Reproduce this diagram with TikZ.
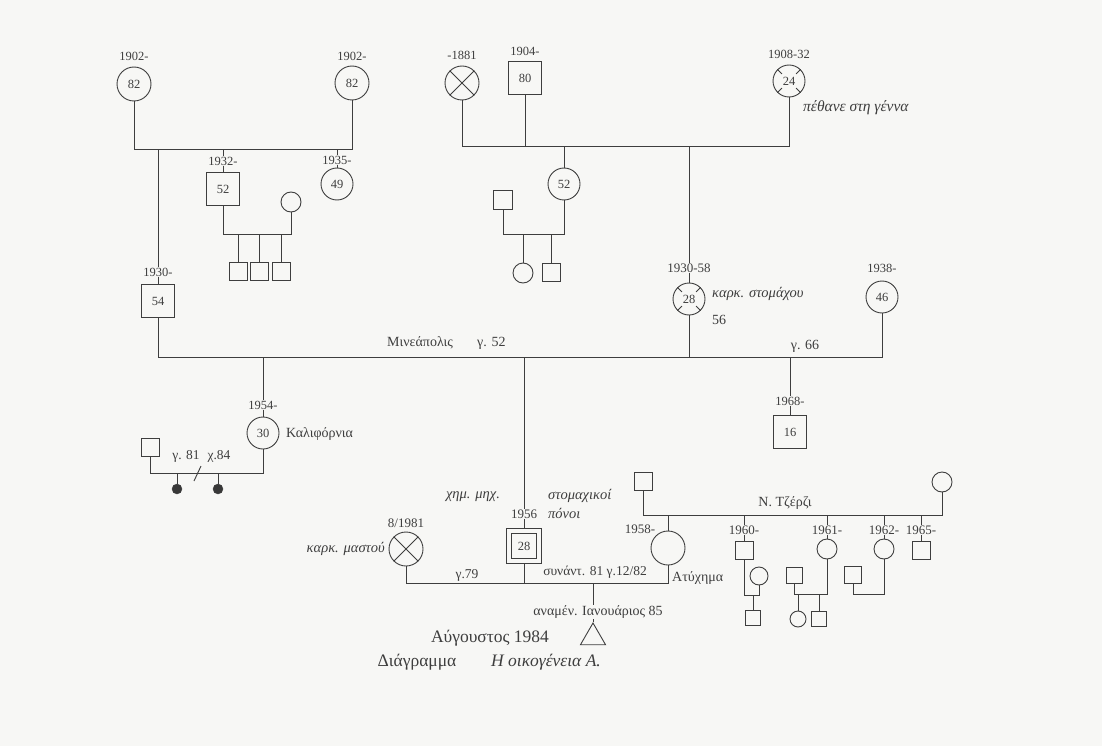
\documentclass[tikz,border=0pt]{standalone}
\usepackage{fontspec}
\setmainfont{Liberation Serif}
\usetikzlibrary{shapes.geometric}
\definecolor{bg}{RGB}{247,247,245}
\definecolor{ink}{RGB}{62,62,62}
\tikzset{
  sq/.style={draw=ink, rectangle, minimum size=#1, inner sep=0pt, line width=0.9pt, text=ink, font=\fontsize{12.5}{14}\selectfont},
  ci/.style={draw=ink, circle, minimum size=#1, inner sep=0pt, line width=0.9pt, text=ink, font=\fontsize{12.5}{14}\selectfont},
  dot/.style={circle, fill=ink!90!black, draw=ink, minimum size=#1, inner sep=0pt},
  tri/.style={draw=ink, regular polygon, regular polygon sides=3, minimum size=#1, inner sep=0pt, line width=0.9pt},
  ln/.style={draw=ink, line width=0.9pt},
  yr/.style={font=\fontsize{12.5}{14}\selectfont, text=ink, inner sep=1pt, fill=bg},
  note/.style={font=\fontsize{14.5}{16}\selectfont\itshape, text=ink, inner sep=1pt},
  txt/.style={font=\fontsize{14}{16}\selectfont, text=ink, inner sep=1pt},
  mid/.style={font=\fontsize{13.5}{16}\selectfont, text=ink, inner sep=1pt},
  big/.style={font=\fontsize{17.5}{20}\selectfont, text=ink, inner sep=1pt},
  bigit/.style={font=\fontsize{17.5}{20}\selectfont\itshape, text=ink, inner sep=1pt},
}
\begin{document}
\begin{tikzpicture}[x=1pt,y=-1pt]
\fill[bg] (0,0) rectangle (1102,746);
\useasboundingbox (0,0) rectangle (1102,746);
% ---- levels
\coordinate (m1) at (0,149);
\coordinate (m2) at (0,234);
\coordinate (m3) at (0,146);
\coordinate (m4) at (0,234);
\coordinate (m5) at (0,357);
\coordinate (m7) at (0,473);
\coordinate (m8) at (0,583);
\coordinate (m9) at (0,515);
\coordinate (m10) at (0,595);
\coordinate (m11) at (0,594);
% ---- top left
\node[ci=34] (A1) at (134,84) {82};
\node[ci=34] (A2) at (352,83) {82};
\node[sq=33] (B1) at (158,301) {54};
\node[sq=33] (B2) at (223,189) {52};
\node[ci=32] (B3) at (337,184) {49};
\node[ci=20] (B2w) at (291,202) {};
\node[sq=18] (K1) at (238,271) {};
\node[sq=18] (K2) at (259,271) {};
\node[sq=18] (K3) at (281,271) {};
% ---- top middle
\node[ci=34] (C1) at (462,83) {};
\draw[ln] (C1.45) -- (C1.225) (C1.135) -- (C1.315);
\node[sq=33] (C2) at (525,78) {80};
\node[ci=32] (C3) at (789,81) {24};
\foreach \a in {45,135,225,315} \draw[ln] ([shift={(\a:10pt)}]C3.center) -- (C3.\a);
\node[ci=32] (D1) at (564,184) {52};
\node[sq=19] (D1h) at (503,200) {};
\node[ci=20] (D1a) at (523,273) {};
\node[sq=18] (D1b) at (551,272) {};
\node[ci=32] (D2) at (689,299) {28};
\foreach \a in {45,135,225,315} \draw[ln] ([shift={(\a:10pt)}]D2.center) -- (D2.\a);
\node[ci=32] (E1) at (882,297) {46};
\node[sq=33] (F1) at (790,432) {16};
% ---- middle left
\node[ci=32] (G1) at (263,433) {30};
\node[sq=18] (G1h) at (150,447) {};
\node[dot=10] (G1a) at (177,489) {};
\node[dot=10] (G1b) at (218,489) {};
% ---- main
\node[sq=35] (H1) at (524,546) {};
\node[sq=25] (H1i) at (524,546) {28};
\node[ci=34] (I1) at (406,549) {};
\draw[ln] (I1.45) -- (I1.225) (I1.135) -- (I1.315);
\node[ci=34] (J1) at (668,548) {};
\node[tri=29] (T1) at (593,637.5) {};
% ---- right family
\node[sq=18] (L1) at (643,481) {};
\node[ci=20] (L2) at (942,482) {};
\node[sq=18] (P1) at (744,550) {};
\node[ci=20] (P2) at (827,549) {};
\node[ci=20] (P3) at (884,549) {};
\node[sq=18] (P4) at (921,550) {};
\node[ci=18] (P1w) at (759,576) {};
\node[sq=15] (P1k) at (753,618) {};
\node[sq=16] (P2h) at (794,575) {};
\node[ci=16] (P2a) at (798,619) {};
\node[sq=15] (P2b) at (819,619) {};
\node[sq=17] (P3h) at (853,575) {};
% ---- connectors
\draw[ln] (A1.south) |- (A2.south |- m1) -- (A2.south);
\draw[ln] (B1.north) -- (B1.north |- m1);
\draw[ln] (B2.north) -- (B2.north |- m1);
\draw[ln] (B3.north) -- (B3.north |- m1);
\draw[ln] (B2.south) |- (B2w.south |- m2) -- (B2w.south);
\foreach \k in {K1,K2,K3} \draw[ln] (\k.north) -- (\k.north |- m2);
\draw[ln] (C1.south) |- (C3.south |- m3) -- (C3.south);
\draw[ln] (C2.south) -- (C2.south |- m3);
\draw[ln] (D1.north) -- (D1.north |- m3);
\draw[ln] (D2.north) -- (D2.north |- m3);
\draw[ln] (D1h.south) |- (D1.south |- m4) -- (D1.south);
\draw[ln] (D1a.north) -- (D1a.north |- m4);
\draw[ln] (D1b.north) -- (D1b.north |- m4);
\draw[ln] (B1.south) |- (E1.south |- m5) -- (E1.south);
\draw[ln] (D2.south) -- (D2.south |- m5);
\draw[ln] (F1.north) -- (F1.north |- m5);
\draw[ln] (G1.north) -- (G1.north |- m5);
\draw[ln] (H1.north) -- (H1.north |- m5);
\draw[ln] (G1h.south) |- (G1.south |- m7) -- (G1.south);
\draw[ln] (G1a.north) -- (G1a.north |- m7);
\draw[ln] (G1b.north) -- (G1b.north |- m7);
\draw[ln] (194,481) -- (201,466);
\draw[ln] (I1.south) |- (J1.south |- m8) -- (J1.south);
\draw[ln] (H1.south) -- (H1.south |- m8);
\draw[ln] (T1.corner 1) -- (T1.corner 1 |- m8);
\draw[ln] (L1.south) |- (L2.south |- m9) -- (L2.south);
\foreach \p in {J1,P1,P2,P3,P4} \draw[ln] (\p.north) -- (\p.north |- m9);
\draw[ln] (P1.south) |- (P1w.south |- m10) -- (P1w.south);
\draw[ln] (P1k.north) -- (P1k.north |- m10);
\draw[ln] (P2h.south) |- (P2.south |- m11) -- (P2.south);
\draw[ln] (P2a.north) -- (P2a.north |- m11);
\draw[ln] (P2b.north) -- (P2b.north |- m11);
\draw[ln] (P3h.south) |- (P3.south |- m11) -- (P3.south);
% ---- labels
\node[yr] (lA1) at (134,56) {1902-};
\node[yr] (lA2) at (352,56) {1902-};
\node[yr] (lB1) at (158,272) {1930-};
\node[yr] (lB2) at (223,161) {1932-};
\node[yr] (lB3) at (337,160) {1935-};
\node[yr] (lC1) at (462,55) {-1881};
\node[yr] (lC2) at (525,51) {1904-};
\node[yr] (lC3) at (789,54) {1908-32};
\node[note, font=\fontsize{15.5}{17}\selectfont\itshape, anchor=west] (nC3) at (802,108) {πέθανε στη γέννα};
\node[yr, font=\fontsize{13}{15}\selectfont] (lD2) at (689,268) {1930-58};
\node[note, anchor=west] (nD2) at (711,294) {καρκ. στομάχου};
\node[txt, anchor=west] (nD2b) at (711,320) {56};
\node[yr] (lE1) at (882,268) {1938-};
\node[txt, anchor=west] (nM1) at (386,343) {Μινεάπολις};
\node[txt, anchor=west] (nM2) at (476,343) {γ. 52};
\node[txt] (nM3) at (805,346) {γ. 66};
\node[yr] (lF1) at (790,401) {1968-};
\node[yr] (lG1) at (263,405) {1954-};
\node[txt, anchor=west] (nG1) at (285,434) {Καλιφόρνια};
\node[mid] (nG2) at (186,456) {γ. 81};
\node[mid] (nG3) at (219,456) {χ.84};
\node[yr, font=\fontsize{13}{15}\selectfont] (lH1) at (524,514) {1956};
\node[note] (nH1) at (473,497) {χημ. μηχ.};
\node[note, anchor=west] (nH2) at (547,496) {στομαχικοί};
\node[note, anchor=west] (nH3) at (547,513) {πόνοι};
\node[yr, font=\fontsize{13}{15}\selectfont] (lI1) at (406,523) {8/1981};
\node[note, anchor=east] (nI1) at (386,549) {καρκ. μαστού};
\node[mid] (n79) at (467,575) {γ.79};
\node[mid] (n81) at (595,572) {συνάντ. 81 γ.12/82};
\node[yr, font=\fontsize{13}{15}\selectfont] (lJ1) at (640,529) {1958-};
\node[txt, anchor=west] (nJ1) at (671,578) {Ατύχημα};
\node[yr, font=\fontsize{14}{16}\selectfont] (nT1) at (598,612) {αναμέν. Ιανουάριος 85};
\node[txt] (nR) at (785,503) {Ν. Τζέρζι};
\node[yr, font=\fontsize{13}{15}\selectfont] (lP1) at (744,530) {1960-};
\node[yr, font=\fontsize{13}{15}\selectfont] (lP2) at (827,530) {1961-};
\node[yr, font=\fontsize{13}{15}\selectfont] (lP3) at (884,530) {1962-};
\node[yr, font=\fontsize{13}{15}\selectfont] (lP4) at (921,530) {1965-};
\node[big] (nDate) at (490,638) {Αύγουστος 1984};
\node[big] (nCap1) at (417,662) {Διάγραμμα};
\node[bigit] (nCap2) at (546,662) {Η οικογένεια Α.};
\end{tikzpicture}
\end{document}
